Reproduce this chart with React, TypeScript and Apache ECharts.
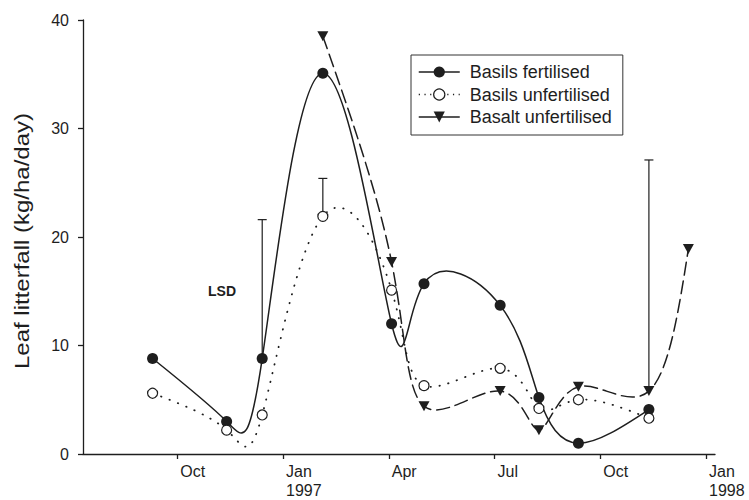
import React, { useEffect, useRef } from 'react';
import * as echarts from 'echarts';

// x values are months counted from 1 Jan 1996 (9 = Oct 1996, 12 = Jan 1997, 24 = Jan 1998)
const basilsDates = [8.3, 10.4, 11.41, 13.13, 15.08, 16.0, 18.16, 19.26, 20.38, 22.38];
const basaltDates = [13.13, 15.08, 16.0, 18.16, 19.26, 20.38, 22.38, 23.5];
const basilsFertilised = [8.8, 3.0, 8.8, 35.1, 12.0, 15.7, 13.7, 5.2, 1.0, 4.1];
const basilsUnfertilised = [5.6, 2.2, 3.6, 21.9, 15.1, 6.3, 7.9, 4.2, 5.0, 3.3];
const basaltUnfertilised = [38.5, 17.7, 4.4, 5.8, 2.2, 6.2, 5.8, 18.9];
const lsdDates = [11.41, 13.13, 22.38];
const lsdLow = [8.8, 21.9, 5.8];
const lsdHigh = [21.6, 25.4, 27.1];
const xTickValues = [9, 12, 15, 18, 21, 24];
const xTickLabels = ['Oct', 'Jan\n1997', 'Apr', 'Jul', 'Oct', 'Jan\n1998'];
const seriesNames = ['Basils fertilised', 'Basils unfertilised', 'Basalt unfertilised'];
const yAxisTitle = 'Leaf litterfall (kg/ha/day)';
const lsdLabel = 'LSD';

const FONT = '"Liberation Sans", Arial, Helvetica, sans-serif';
const INK = '#1e1e1e';

// first derivatives of a natural cubic spline through (ts, vs)
function naturalDerivs(ts: number[], vs: number[]): number[] {
  const n = ts.length;
  const h: number[] = [];
  for (let i = 0; i < n - 1; i++) h.push(ts[i + 1] - ts[i]);
  const M = new Array(n).fill(0);
  if (n > 2) {
    const a: number[] = [], b: number[] = [], c: number[] = [], d: number[] = [];
    for (let i = 1; i < n - 1; i++) {
      a.push(h[i - 1]);
      b.push(2 * (h[i - 1] + h[i]));
      c.push(h[i]);
      d.push(6 * ((vs[i + 1] - vs[i]) / h[i] - (vs[i] - vs[i - 1]) / h[i - 1]));
    }
    const m = b.length;
    for (let i = 1; i < m; i++) {
      const w = a[i] / b[i - 1];
      b[i] -= w * c[i - 1];
      d[i] -= w * d[i - 1];
    }
    const sol = new Array(m);
    sol[m - 1] = d[m - 1] / b[m - 1];
    for (let i = m - 2; i >= 0; i--) sol[i] = (d[i] - c[i] * sol[i + 1]) / b[i];
    for (let i = 1; i < n - 1; i++) M[i] = sol[i - 1];
  }
  const D: number[] = [];
  for (let i = 0; i < n - 1; i++) D.push((vs[i + 1] - vs[i]) / h[i] - (h[i] * (2 * M[i] + M[i + 1])) / 6);
  D.push((vs[n - 1] - vs[n - 2]) / h[n - 2] + (h[n - 2] * (M[n - 2] + 2 * M[n - 1])) / 6);
  return D;
}

// parametric spline (uniform parameter) through the pixel positions of the points
function splinePath(pts: number[][]): string {
  const ts = pts.map((_, i) => i);
  const Dx = naturalDerivs(ts, pts.map((p) => p[0]));
  const Dy = naturalDerivs(ts, pts.map((p) => p[1]));
  let s = `M${pts[0][0]} ${pts[0][1]}`;
  for (let i = 0; i < pts.length - 1; i++) {
    s += ` C${pts[i][0] + Dx[i] / 3} ${pts[i][1] + Dy[i] / 3} ${pts[i + 1][0] - Dx[i + 1] / 3} ${
      pts[i + 1][1] - Dy[i + 1] / 3
    } ${pts[i + 1][0]} ${pts[i + 1][1]}`;
  }
  return s;
}

function splineSeries(xs: number[], ys: number[], lineDash: any, lineWidth: number) {
  return {
    type: 'custom',
    coordinateSystem: 'cartesian2d',
    silent: true,
    clip: false,
    z: 2,
    data: xs.map((x, i) => [x, ys[i]]),
    encode: { x: 0, y: 1 },
    renderItem: (params: any, api: any) => {
      if (params.dataIndex !== 0) return null;
      const pts = xs.map((x, i) => api.coord([x, ys[i]]));
      return {
        type: 'path',
        shape: { pathData: splinePath(pts) },
        style: { fill: 'none', stroke: INK, lineWidth, lineDash, lineCap: 'round' },
      };
    },
  };
}

export default function App() {
  const ref = useRef<HTMLDivElement>(null);
  useEffect(() => {
    if (!ref.current) return;
    const chart = echarts.init(ref.current, null, { renderer: 'svg' });
    const option: any = {
      animation: false,
      backgroundColor: '#fff',
      grid: { left: 83, right: 34, top: 20, bottom: 41.7 },
      xAxis: {
        type: 'value',
        min: 6.326,
        max: 24.255,
        splitLine: { show: false },
        axisLine: { lineStyle: { color: INK, width: 1.3 } },
        axisTick: { customValues: xTickValues, length: 5, lineStyle: { color: INK, width: 1.3 } },
        axisLabel: {
          customValues: xTickValues,
          formatter: (v: number) => {
            const i = xTickValues.findIndex((t) => Math.abs(t - v) < 1e-6);
            return i >= 0 ? xTickLabels[i] : '';
          },
          align: 'left',
          padding: [0, 0, 0, 3],
          margin: 8,
          fontSize: 16,
          lineHeight: 19,
          color: INK,
          fontFamily: FONT,
        },
      },
      yAxis: {
        type: 'value',
        min: 0,
        max: 40,
        interval: 10,
        splitLine: { show: false },
        axisLine: { show: true, lineStyle: { color: INK, width: 1.3 } },
        axisTick: { show: true, length: 5, lineStyle: { color: INK, width: 1.3 } },
        axisLabel: { margin: 14, fontSize: 16, color: INK, fontFamily: FONT },
      },
      legend: {
        orient: 'vertical',
        left: 411,
        top: 55,
        itemWidth: 41,
        itemHeight: 14,
        itemGap: 4.5,
        padding: [8, 11, 9, 7],
        borderColor: '#333',
        borderWidth: 1,
        selectedMode: false,
        textStyle: { fontSize: 18, color: INK, fontFamily: FONT, padding: [0, 0, 0, 5] },
        data: [
          { name: seriesNames[0], lineStyle: { opacity: 1, width: 1.5, type: 'solid', color: INK } },
          {
            name: seriesNames[1],
            lineStyle: { opacity: 1, width: 1.5, type: [1.2, 4.5], color: INK },
            itemStyle: { borderWidth: 1.2 },
          },
          { name: seriesNames[2], lineStyle: { opacity: 1, width: 1.5, type: 'solid', color: INK } },
        ],
      },
      graphic: [
        {
          type: 'text',
          x: 22,
          y: 241,
          rotation: Math.PI / 2,
          scaleX: 1.2,
          style: {
            text: yAxisTitle,
            fontSize: 20,
            fontFamily: FONT,
            fill: INK,
            align: 'center',
            verticalAlign: 'middle',
          },
        },
        {
          type: 'text',
          left: 208,
          top: 284,
          style: { text: lsdLabel, fontSize: 14, fontWeight: 'bold', fontFamily: FONT, fill: INK },
        },
      ],
      series: [
        splineSeries(basilsDates, basilsFertilised, null, 1.5),
        splineSeries(basilsDates, basilsUnfertilised, [0.4, 8.6], 1.8),
        splineSeries(basaltDates, basaltUnfertilised, [13, 6], 1.5),
        {
          type: 'custom',
          coordinateSystem: 'cartesian2d',
          silent: true,
          z: 2,
          data: lsdDates.map((x, i) => [x, lsdLow[i], lsdHigh[i]]),
          encode: { x: 0, y: [1, 2] },
          renderItem: (params: any, api: any) => {
            const x = api.value(0);
            const lo = api.coord([x, api.value(1)]);
            const hi = api.coord([x, api.value(2)]);
            const st = { stroke: INK, lineWidth: 1.2 };
            return {
              type: 'group',
              children: [
                { type: 'line', shape: { x1: lo[0], y1: lo[1], x2: hi[0], y2: hi[1] }, style: st },
                { type: 'line', shape: { x1: hi[0] - 4.5, y1: hi[1], x2: hi[0] + 4.5, y2: hi[1] }, style: st },
              ],
            };
          },
        },
        {
          name: seriesNames[0],
          type: 'line',
          silent: true,
          z: 3,
          data: basilsDates.map((x, i) => [x, basilsFertilised[i]]),
          symbol: 'circle',
          symbolSize: 11,
          showAllSymbol: true,
          itemStyle: { color: INK },
          lineStyle: { opacity: 0 },
        },
        {
          name: seriesNames[1],
          type: 'line',
          silent: true,
          z: 3,
          data: basilsDates.map((x, i) => [x, basilsUnfertilised[i]]),
          symbol: 'circle',
          symbolSize: 10,
          showAllSymbol: true,
          itemStyle: { color: '#fff', borderColor: INK, borderWidth: 1.2 },
          lineStyle: { opacity: 0 },
        },
        {
          name: seriesNames[2],
          type: 'line',
          silent: true,
          z: 3,
          data: basaltDates.map((x, i) => [x, basaltUnfertilised[i]]),
          symbol: 'triangle',
          symbolRotate: 180,
          symbolSize: [11, 10],
          showAllSymbol: true,
          itemStyle: { color: INK },
          lineStyle: { opacity: 0 },
        },
      ],
    };
    chart.setOption(option);
    return () => chart.dispose();
  }, []);
  return (
    <div
      ref={ref}
      style={{ position: 'fixed', left: 0, top: 0, width: 749, height: 500, background: '#fff' }}
    />
  );
}
